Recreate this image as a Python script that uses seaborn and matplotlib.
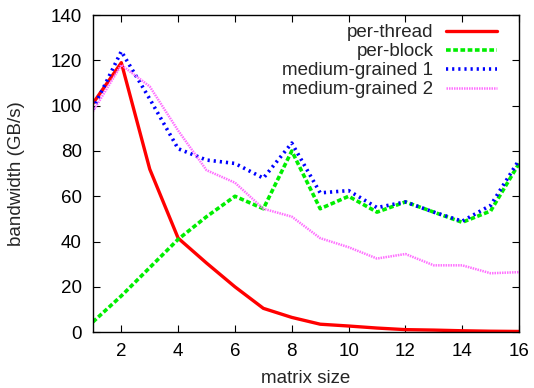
import numpy as np
import pandas as pd
import seaborn as sns
import matplotlib.pyplot as plt

# Data
sizes = list(range(1, 17))
per_thread = [101, 119, 72, 41.5, 30.5, 20, 10.5, 6.5, 3.5, 2.7, 1.8, 1.1, 0.9, 0.6, 0.4, 0.3]
per_block = [4.5, 16, 28.5, 41, 51, 60, 54.5, 80, 54.5, 60, 53, 57.5, 53, 48.5, 53.5, 74.5]
medium_1 = [98.5, 124, 103, 81, 76, 74.5, 68, 83.5, 61.5, 62.5, 55, 57.5, 53, 49, 56, 76]
medium_2 = [97.5, 118, 108.5, 89, 71.5, 66, 54.5, 51, 41.5, 37.5, 32.5, 34.5, 29.5, 29.5, 26, 26.5]

series = {
    'per-thread': per_thread,
    'per-block': per_block,
    'medium-grained 1': medium_1,
    'medium-grained 2': medium_2,
}
styles = {
    'per-thread': dict(color='#ff0000', linestyle='-', linewidth=2.4),
    'per-block': dict(color='#00ee00', linestyle=(0, (1.3, 0.7)), linewidth=2.6),
    'medium-grained 1': dict(color='#0000ff', linestyle=(0, (0.6, 1.1)), linewidth=2.6),
    'medium-grained 2': dict(color='#ff70ff', linestyle=(0, (0.6, 0.4)), linewidth=1.8),
}

df = pd.DataFrame([
    {'size': s, 'bandwidth': v, 'kind': name}
    for name, vals in series.items() for s, v in zip(sizes, vals)
])

sns.set_style('ticks')
plt.rcParams['font.family'] = ['Liberation Sans', 'DejaVu Sans']
fs = 13.5

fig = plt.figure(figsize=(5.34, 3.88), dpi=100)
ax = fig.add_axes([0.174, 0.144, 0.798, 0.817])

for name in series:
    sub = df[df['kind'] == name]
    sns.lineplot(data=sub, x='size', y='bandwidth', ax=ax, label=name, **styles[name])

ax.set_xlim(1, 16)
ax.set_ylim(0, 140)
ax.set_xticks(range(2, 17, 2))
ax.set_yticks(range(0, 141, 20))
ax.tick_params(direction='in', top=True, right=True, labelsize=fs, length=5, width=0.8, pad=8, colors='black')
for sp in ax.spines.values():
    sp.set_linewidth(1.0)
    sp.set_color('black')
ax.set_xlabel('matrix size', fontsize=fs, labelpad=7)
ax.set_ylabel('bandwidth (GB/s)', fontsize=fs, labelpad=18)
ax.legend(loc='upper right', bbox_to_anchor=(0.966, 0.995), markerfirst=False, frameon=False,
          fontsize=fs, handlelength=2.7, labelspacing=0.1, borderaxespad=0, handletextpad=0.7)

fig.savefig('out.png', dpi=100)
